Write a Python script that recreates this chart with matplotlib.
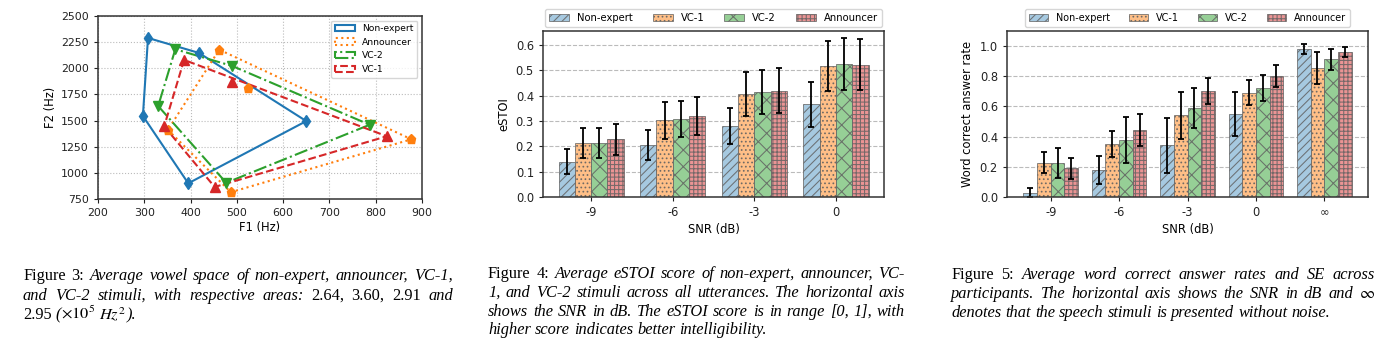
import matplotlib
matplotlib.use('Agg')
import matplotlib.pyplot as plt
from matplotlib.patches import Patch, Polygon
import numpy as np

plt.rcParams['mathtext.fontset'] = 'stix'
plt.rcParams['hatch.linewidth'] = 0.75

# ---------------- Figure 3 data: vowel formants (F1, F2) ----------------
vowel_series = ['Non-expert', 'Announcer', 'VC-2', 'VC-1']
ne_f1 = [308, 418, 650, 395, 297]
ne_f2 = [2290, 2147, 1495, 900, 1544]
ann_f1 = [462, 523, 877, 487, 351]
ann_f2 = [2178, 1808, 1321, 815, 1411]
vc2_f1 = [367, 490, 787, 477, 330]
vc2_f2 = [2182, 2022, 1460, 905, 1639]
vc1_f1 = [386, 489, 824, 452, 343]
vc1_f2 = [2080, 1865, 1350, 865, 1445]

# ---------------- Figure 4 data: eSTOI ----------------
estoi_snr = ['-9', '-6', '-3', '0']
estoi_ne = [0.140, 0.205, 0.280, 0.366]
estoi_ne_se = [0.049, 0.058, 0.071, 0.089]
estoi_vc1 = [0.213, 0.303, 0.407, 0.516]
estoi_vc1_se = [0.059, 0.073, 0.086, 0.098]
estoi_vc2 = [0.213, 0.307, 0.414, 0.525]
estoi_vc2_se = [0.059, 0.072, 0.087, 0.101]
estoi_ann = [0.227, 0.318, 0.419, 0.522]
estoi_ann_se = [0.061, 0.075, 0.089, 0.100]

# ---------------- Figure 5 data: word correct answer rate ----------------
wcr_snr = ['-9', '-6', '-3', '0', '∞']
wcr_ne = [0.029, 0.178, 0.343, 0.552, 0.980]
wcr_ne_se = [0.030, 0.094, 0.181, 0.147, 0.031]
wcr_vc1 = [0.226, 0.349, 0.541, 0.692, 0.855]
wcr_vc1_se = [0.070, 0.086, 0.158, 0.080, 0.104]
wcr_vc2 = [0.226, 0.378, 0.591, 0.721, 0.912]
wcr_vc2_se = [0.102, 0.155, 0.133, 0.085, 0.070]
wcr_ann = [0.189, 0.446, 0.703, 0.800, 0.960]
wcr_ann_se = [0.068, 0.105, 0.087, 0.074, 0.033]

bar_series = ['Non-expert', 'VC-1', 'VC-2', 'Announcer']

# ---------------- captions ----------------
cap3_lines = [
    "~Figure ~3: Average vowel space of non-expert, announcer, VC-1,",
    "and VC-2 stimuli, with respective areas: ~2.64, ~3.60, ~2.91 and",
    r"~2.95 (|~$\times10^{5}$ ~$Hz^{2}$|).",
]
cap4_lines = [
    "~Figure ~4: Average eSTOI score of non-expert, announcer, VC-",
    "1, and VC-2 stimuli across all utterances. The horizontal axis",
    "shows the SNR in dB. The eSTOI score is in range [0, 1], with",
    "higher score indicates better intelligibility.",
]
cap5_lines = [
    "~Figure ~5: Average word correct answer rates and SE across",
    r"participants. The horizontal axis shows the SNR in dB and ~$\infty$",
    "denotes that the speech stimuli is presented without noise.",
]

W, H = 1387, 353
fig = plt.figure(figsize=(W / 100, H / 100), dpi=100)

def ax_px(l, r, t, b):
    return [l / W, 1 - b / H, (r - l) / W, (b - t) / H]

spine_col = '#333333'
tick_fs = 8.3

def style_axes(ax):
    for s in ax.spines.values():
        s.set_color(spine_col)
        s.set_linewidth(1.1)
    ax.tick_params(colors='#222222', labelsize=tick_fs, length=3, width=0.8)

# ---------------- Axes 1: vowel space ----------------
ax1 = fig.add_axes(ax_px(98, 422, 16, 199))
style_axes(ax1)
ax1.tick_params(labelsize=7.9)

def hull(xs, ys):
    pts = sorted(set(zip(xs, ys)))
    def cross(o, a, b):
        return (a[0]-o[0])*(b[1]-o[1]) - (a[1]-o[1])*(b[0]-o[0])
    lower, upper = [], []
    for p in pts:
        while len(lower) >= 2 and cross(lower[-2], lower[-1], p) <= 0:
            lower.pop()
        lower.append(p)
    for p in reversed(pts):
        while len(upper) >= 2 and cross(upper[-2], upper[-1], p) <= 0:
            upper.pop()
        upper.append(p)
    return lower[:-1] + upper[:-1]

vowel_data = [(ne_f1, ne_f2), (ann_f1, ann_f2), (vc2_f1, vc2_f2), (vc1_f1, vc1_f2)]
vowel_colors = ['tab:blue', 'tab:orange', 'tab:green', 'tab:red']
vowel_ls = ['-', ':', '-.', '--']
vowel_markers = ['d', 'p', 'v', '^']
handles1 = []
for name, (f1, f2), c, ls, m in zip(vowel_series, vowel_data, vowel_colors, vowel_ls, vowel_markers):
    poly = Polygon(hull(f1, f2), closed=True, fill=False, edgecolor=c, linestyle=ls, linewidth=1.5, label=name)
    ax1.add_patch(poly)
    ax1.plot(f1, f2, linestyle='none', marker=m, color=c, markersize=6.5)
    handles1.append(poly)
ax1.set_xlim(200, 900)
ax1.set_ylim(750, 2500)
ax1.set_xticks(np.arange(200, 901, 100))
ax1.set_yticks(np.arange(750, 2501, 250))
ax1.grid(True, linestyle=':', color='#bbbbbb', linewidth=0.8)
ax1.set_axisbelow(True)
ax1.set_xlabel('F1 (Hz)', fontsize=8.3, labelpad=2)
ax1.set_ylabel('F2 (Hz)', fontsize=8.3, labelpad=3)
ax1.legend(handles=handles1, loc='upper right', fontsize=6.6, handlelength=2.2,
           borderaxespad=0.5)

# ---------------- bar chart helper ----------------
bar_colors = [(0.65, 0.79, 0.88), (1.0, 0.75, 0.53), (0.59, 0.81, 0.59), (0.92, 0.58, 0.58)]
bar_hatch = ['////', '....', 'xx', '++++']

def bar_chart(ax, groups, vals, ses, ylab, ylim, yticks, legend_fs):
    style_axes(ax)
    x = np.arange(len(groups))
    w = 0.2
    handles = []
    for i, (name, v, e) in enumerate(zip(bar_series, vals, ses)):
        b = ax.bar(x + (i - 1.5) * w, v, w, yerr=e, color=bar_colors[i],
                   edgecolor=(0.38, 0.38, 0.38, 0.85), linewidth=0.6, hatch=bar_hatch[i],
                   capsize=2, error_kw=dict(elinewidth=1.3, capthick=1.3, ecolor='black'),
                   label=name, zorder=2)
        handles.append(b)
    ax.set_xticks(x)
    ax.set_xticklabels(groups)
    ax.set_ylim(*ylim)
    ax.set_yticks(yticks)
    ax.yaxis.grid(True, linestyle='--', color='#bbbbbb', linewidth=0.8)
    ax.set_axisbelow(True)
    ax.set_xlabel('SNR (dB)', fontsize=8.3, labelpad=3)
    ax.set_ylabel(ylab, fontsize=8.3)
    ax.legend(handles=handles, loc='lower center', bbox_to_anchor=(0.5, 1.015), ncol=4,
              fontsize=legend_fs, borderaxespad=0.2, columnspacing=2.0, handlelength=2.0)

ax2 = fig.add_axes(ax_px(543, 884, 31, 197))
bar_chart(ax2, estoi_snr, [estoi_ne, estoi_vc1, estoi_vc2, estoi_ann],
          [estoi_ne_se, estoi_vc1_se, estoi_vc2_se, estoi_ann_se],
          'eSTOI', (0, 0.655), np.arange(0, 0.61, 0.1), 7.2)
ax2.set_yticklabels([f'{v:.1f}' for v in np.arange(0, 0.61, 0.1)])

ax3 = fig.add_axes(ax_px(1007, 1368, 31, 197))
bar_chart(ax3, wcr_snr, [wcr_ne, wcr_vc1, wcr_vc2, wcr_ann],
          [wcr_ne_se, wcr_vc1_se, wcr_vc2_se, wcr_ann_se],
          'Word correct answer rate', (0, 1.1), np.arange(0, 1.01, 0.2), 6.9)
ax3.set_yticklabels([f'{v:.1f}' for v in np.arange(0, 1.01, 0.2)])

# ---------------- captions (justified) ----------------
cap_fs = 11.8
cap_family = 'Liberation Serif'
fig.canvas.draw()
renderer = fig.canvas.get_renderer()

def parse_word(word):
    pieces = []
    for p in word.split('|'):
        if p.startswith('~'):
            pieces.append((p[1:], 'normal'))
        else:
            pieces.append((p, 'italic'))
    return pieces

def measure(s, style):
    t = fig.text(0, 0, s, fontfamily=cap_family, fontsize=cap_fs, fontstyle=style)
    wdt = t.get_window_extent(renderer).width
    t.remove()
    return wdt

space_w = measure('a b', 'normal') - measure('ab', 'normal')

def draw_caption(lines, x0, x1, baselines):
    for li, (line, yb) in enumerate(zip(lines, baselines)):
        words = [parse_word(wd) for wd in line.split(' ')]
        widths = [[measure(s, st) for s, st in wd] for wd in words]
        tot = sum(sum(ws) for ws in widths)
        last = li == len(lines) - 1
        if not last and len(words) > 1:
            gap = (x1 - x0 - tot) / (len(words) - 1)
        else:
            gap = space_w
        x = x0
        for wd, ws in zip(words, widths):
            for (s, st), wv in zip(wd, ws):
                fig.text(x / W, 1 - yb / H, s, fontfamily=cap_family, fontsize=cap_fs,
                         fontstyle=st, va='baseline', ha='left')
                x += wv
            x += gap

draw_caption(cap3_lines, 23, 453, [280, 299.5, 319])
draw_caption(cap4_lines, 488, 905, [278, 297, 315.5, 334])
draw_caption(cap5_lines, 951, 1375, [279, 298, 317])

fig.savefig('out.png', dpi=100)
